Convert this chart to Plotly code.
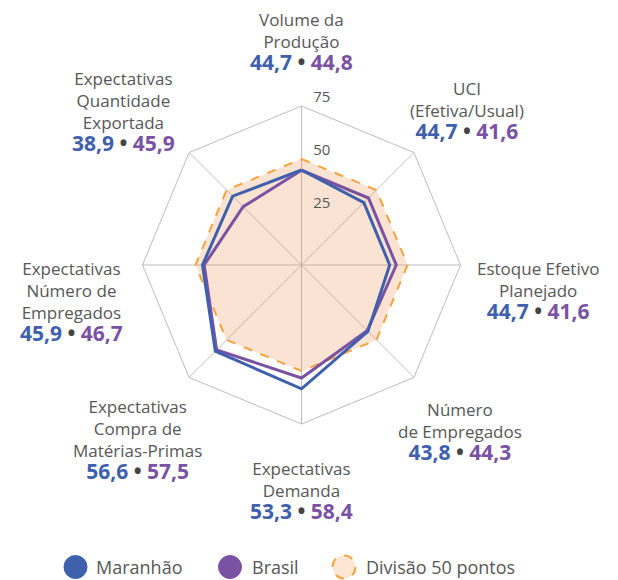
import plotly.graph_objects as go

W, H = 618, 580

# ---- data ----
eixos = ["Volume da Produção", "UCI (Efetiva/Usual)", "Estoque Efetivo Planejado",
         "Número de Empregados", "Expectativas Demanda",
         "Expectativas Compra de Matérias-Primas",
         "Expectativas Número de Empregados", "Expectativas Quantidade Exportada"]
rotulos = [["Volume da", "Produção"], ["UCI", "(Efetiva/Usual)"],
           ["Estoque Efetivo", "Planejado"], ["Número", "de Empregados"],
           ["Expectativas", "Demanda"], ["Expectativas", "Compra de", "Matérias-Primas"],
           ["Expectativas", "Número de", "Empregados"],
           ["Expectativas", "Quantidade", "Exportada"]]
maranhao = [44.7, 44.7, 44.7, 43.8, 53.3, 56.6, 45.9, 38.9]
brasil = [44.8, 41.6, 41.6, 44.3, 58.4, 57.5, 46.7, 45.9]
divisao = [50, 50, 50, 50, 50, 50, 50, 50]
radial_ticks = [25, 50, 75]
radial_max = 75

# colours
AZUL = "#3f60ad"
ROXO = "#7a52a3"
LARANJA = "#f7a23c"
CINZA_TXT = "#575757"
FONTE = "Open Sans"

def fecha(v):
    return list(v) + [v[0]]

theta = fecha(eixos)

fig = go.Figure()
fig.add_trace(go.Scatterpolar(
    r=fecha(divisao), theta=theta, mode="lines", fill="toself",
    fillcolor="rgba(240,140,70,0.24)",
    line=dict(color=LARANJA, width=2, dash="dash"), name="Divisão 50 pontos",
    showlegend=False, hoverinfo="skip"))
# the reference draws the blue outline with the second series and the purple with the first
fig.add_trace(go.Scatterpolar(
    r=fecha(maranhao), theta=theta, mode="lines",
    line=dict(color=ROXO, width=3), name="Brasil", showlegend=False))
fig.add_trace(go.Scatterpolar(
    r=fecha(brasil), theta=theta, mode="lines",
    line=dict(color=AZUL, width=3), name="Maranhão", showlegend=False))
# radial tick labels along the top spoke
fig.add_trace(go.Scatterpolar(
    r=radial_ticks, theta=[eixos[0]] * len(radial_ticks), mode="text",
    text=["\u00a0\u00a0\u00a0" + str(t) for t in radial_ticks], textposition="top right",
    textfont=dict(size=15, color=CINZA_TXT, family=FONTE),
    showlegend=False, hoverinfo="skip"))

# polar placement (pixels)
cx, cy, R = 301.5, 265, 159
dom_x = [(cx - R) / W, (cx + R) / W]
dom_y = [1 - (cy + R) / H, 1 - (cy - R) / H]

fig.update_layout(
    width=W, height=H, margin=dict(l=0, r=0, t=0, b=0),
    paper_bgcolor="white", plot_bgcolor="white",
    font=dict(family=FONTE, color=CINZA_TXT),
    polar=dict(
        domain=dict(x=dom_x, y=dom_y),
        bgcolor="rgba(0,0,0,0)",
        gridshape="linear",
        radialaxis=dict(range=[0, radial_max], tickvals=radial_ticks, showgrid=False,
                        showline=False, ticks="", showticklabels=False, angle=90),
        angularaxis=dict(direction="clockwise", rotation=90, showticklabels=False,
                         ticks="", showgrid=True, gridcolor="#bdbdbd", gridwidth=1,
                         showline=True, linecolor="#bdbdbd", linewidth=1),
    ),
)

# category label positions in pixels: (x center, first line center y)
pos = [(301, 18), (467, 87), (538, 267), (460, 408),
       (301, 467), (137, 405), (71, 267), (123, 77)]
TOP_OFF = 12

def fmt(v):
    return f"{v:.1f}".replace(".", ",")

for i, (px, ty) in enumerate(pos):
    num = (f"<span style='font-size:21px'><b><span style='color:{AZUL}'>{fmt(maranhao[i])}</span>"
           f"<span style='color:#444'> • </span>"
           f"<span style='color:{ROXO}'>{fmt(brasil[i])}</span></b></span>")
    texto = "<br>".join(rotulos[i] + [num])
    fig.add_annotation(xref="paper", yref="paper", x=px / W, y=1 - (ty - TOP_OFF) / H,
                       text=texto, showarrow=False, xanchor="center", yanchor="top",
                       align="center", font=dict(size=17, color=CINZA_TXT, family=FONTE))

# custom legend
leg_y = 567
rr = 11.5
itens = [(75.5, AZUL, AZUL, "solid", "Maranhão", 94),
         (230, ROXO, ROXO, "solid", "Brasil", 250),
         (344, "#fde6d4", LARANJA, "dash", "Divisão 50 pontos", 364)]
for (lx, fillc, linec, dash, txt, tx) in itens:
    fig.add_shape(type="circle", xref="paper", yref="paper",
                  x0=(lx - rr) / W, x1=(lx + rr) / W,
                  y0=1 - (leg_y + rr) / H, y1=1 - (leg_y - rr) / H,
                  fillcolor=fillc, line=dict(color=linec, width=2 if dash == "dash" else 1, dash=dash))
    fig.add_annotation(xref="paper", yref="paper", x=tx / W, y=1 - leg_y / H, text=txt,
                       showarrow=False, xanchor="left", yanchor="middle",
                       font=dict(size=18, color=CINZA_TXT, family=FONTE))

fig.write_html("out.html", config={"displayModeBar": False},
               post_script="document.body.style.margin='0';"
               "document.body.style.overflow='hidden';")
